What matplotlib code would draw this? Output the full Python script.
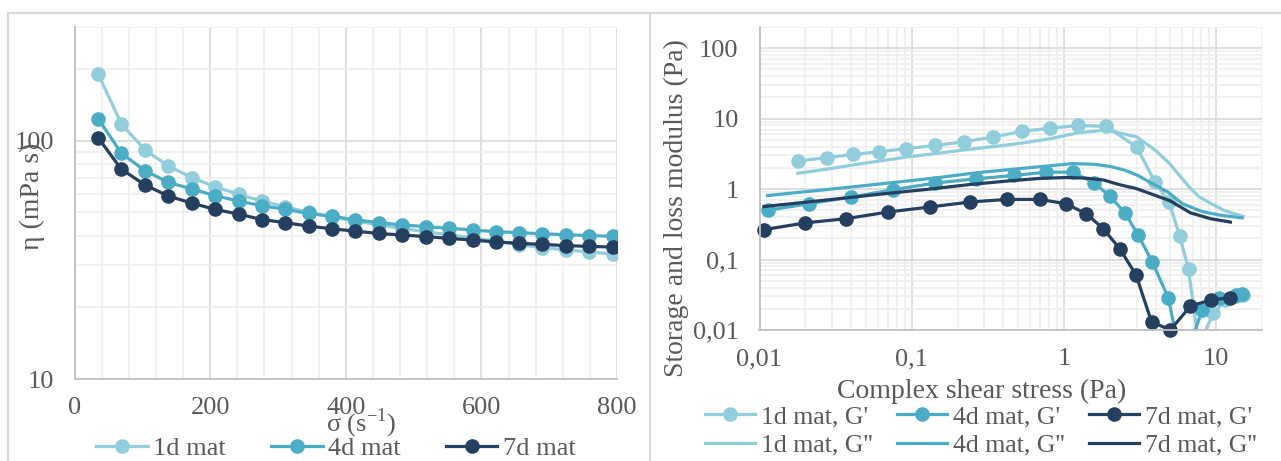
import numpy as np
import matplotlib
matplotlib.use("Agg")
import matplotlib.pyplot as plt
from matplotlib.ticker import FixedLocator, LogLocator, MultipleLocator, FuncFormatter, NullFormatter
from matplotlib.patches import Rectangle
from matplotlib.lines import Line2D

# --- left panel: viscosity vs shear rate ---
shear_rate = [35, 69, 104, 138, 173, 207, 242, 276, 311, 345, 380, 414, 449, 483, 518, 552, 587, 621, 656, 690, 725, 759, 794]
eta_1d = [190, 117.5, 91.4, 78.4, 70.0, 64.1, 59.6, 55.8, 52.8, 50.0, 47.8, 46.0, 44.3, 42.8, 41.5, 40.3, 39.1, 37.9, 36.6, 35.6, 34.8, 34.1, 33.5]
eta_4d = [123.5, 88.5, 74.8, 66.9, 62.7, 58.8, 55.8, 53.4, 51.5, 49.5, 48.2, 46.5, 45.3, 44.3, 43.6, 42.9, 42.2, 41.5, 41.1, 40.7, 40.3, 40.0, 39.7]
eta_7d = [102.6, 75.9, 65.2, 58.6, 54.7, 51.5, 49.2, 46.7, 45.3, 43.8, 42.7, 41.7, 40.8, 40.2, 39.6, 38.9, 38.3, 37.6, 37.1, 36.7, 36.3, 36.0, 35.8]

# --- right panel: amplitude sweep, G' and G'' vs complex shear stress ---
stress_1d = [0.0179, 0.0277, 0.0411, 0.061, 0.0923, 0.143, 0.222, 0.340, 0.531, 0.815, 1.24, 1.90, 3.01, 3.96, 4.90, 5.76, 6.58, 7.7, 9.55, 11.5, 13.5, 15.0]
gp_1d = [2.5, 2.8, 3.1, 3.4, 3.75, 4.17, 4.7, 5.47, 6.6, 7.33, 8.0, 7.76, 3.94, 1.26, 0.657, 0.217, 0.0724, 0.006, 0.0172, 0.027, 0.030, 0.031]
gpp_1d = [1.68, 1.92, 2.2, 2.5, 2.85, 3.2, 3.6, 4.0, 4.5, 5.2, 6.3, 6.9, 5.5, 3.6, 2.35, 1.55, 1.1, 0.78, 0.6, 0.49, 0.44, 0.41]

stress_4d = [0.0113, 0.0211, 0.040, 0.0757, 0.143, 0.263, 0.468, 0.760, 1.14, 1.58, 2.01, 2.52, 3.08, 3.80, 4.85, 6.0, 8.09, 10.4, 13.4, 14.8]
gp_4d = [0.50, 0.62, 0.77, 0.98, 1.22, 1.40, 1.56, 1.74, 1.74, 1.22, 0.787, 0.457, 0.221, 0.0927, 0.0287, 0.003, 0.0192, 0.0281, 0.0313, 0.032]
gpp_4d = [0.81, 0.93, 1.07, 1.24, 1.44, 1.70, 1.92, 2.12, 2.3, 2.25, 2.1, 1.85, 1.55, 1.2, 0.9, 0.62, 0.48, 0.43, 0.40, 0.39]

stress_7d = [0.0107, 0.0199, 0.0369, 0.0698, 0.131, 0.240, 0.422, 0.695, 1.03, 1.40, 1.81, 2.34, 2.98, 3.76, 5.00, 6.78, 9.18, 12.4]
gp_7d = [0.266, 0.331, 0.380, 0.473, 0.556, 0.655, 0.714, 0.714, 0.620, 0.448, 0.275, 0.140, 0.060, 0.0131, 0.0100, 0.0219, 0.0266, 0.0287]
gpp_7d = [0.565, 0.65, 0.75, 0.87, 1.0, 1.16, 1.3, 1.42, 1.46, 1.43, 1.35, 1.15, 1.02, 0.85, 0.68, 0.46, 0.38, 0.34]

labels = ['1d mat', '4d mat', '7d mat']
colors = ['#92CDDC', '#4BACC6', '#243F60']

TXT = '#595959'
FS_TICK = 19
FS_LAB = 20
FS_LEG = 19
LW = 2.3
MS = 9.5
W, H = 1281, 461


def fx(px):
    return px / W


def fy(py):
    return 1 - py / H


def comma(v, pos):
    return ('%g' % v).replace('.', ',')


def style_axes(ax):
    for s in ['top', 'right']:
        ax.spines[s].set_visible(False)
    for s in ['left', 'bottom']:
        ax.spines[s].set_color('#BFBFBF')
        ax.spines[s].set_linewidth(1.3)
    ax.grid(True, which='major', color='#D9D9D9', linewidth=1.2)
    ax.grid(True, which='minor', color='#EFEFEF', linewidth=1.2)
    ax.set_axisbelow(True)
    ax.tick_params(which='both', length=0, labelsize=FS_TICK, colors=TXT)
    ax.tick_params(axis='y', pad=15)
    ax.tick_params(axis='x', pad=13)


def main():
    plt.rcParams['font.family'] = ['Liberation Serif', 'DejaVu Serif']
    fig = plt.figure(figsize=(W / 100, H / 100), dpi=100)

    # chart area frames
    fig.patches.append(Rectangle((fx(8), fy(470)), fx(650) - fx(8), fy(13) - fy(470),
                                 transform=fig.transFigure, fill=False, edgecolor='#D9D9D9', linewidth=1.5))
    fig.patches.append(Rectangle((fx(650), fy(470)), fx(1290) - fx(650), fy(13) - fy(470),
                                 transform=fig.transFigure, fill=False, edgecolor='#D9D9D9', linewidth=1.5))

    # ---- left panel ----
    ax1 = fig.add_axes([fx(74.6), fy(379), fx(617) - fx(74.6), fy(27) - fy(379)])
    for eta, lab, c in zip([eta_1d, eta_4d, eta_7d], labels, colors):
        ax1.plot(shear_rate, eta, color=c, linewidth=LW, marker='o', markersize=MS, label=lab)
    ax1.set_yscale('log')
    ax1.set_xlim(0, 800)
    ax1.set_ylim(10, 300)
    ax1.xaxis.set_major_locator(MultipleLocator(200))
    ax1.xaxis.set_minor_locator(MultipleLocator(40))
    ax1.yaxis.set_major_locator(FixedLocator([10, 100]))
    ax1.yaxis.set_minor_locator(LogLocator(base=10, subs=np.arange(2, 10)))
    ax1.yaxis.set_major_formatter(FuncFormatter(comma))
    ax1.yaxis.set_minor_formatter(NullFormatter())
    style_axes(ax1)

    fig.text(fx(32), fy(196), 'η (mPa s)', rotation=90, ha='center', va='center', fontsize=FS_LAB, color=TXT)
    fig.text(fx(361), fy(423), r'σ (s$^{\mathregular{-1}}$)', ha='center', va='center', fontsize=19, color=TXT)

    h1, l1 = ax1.get_legend_handles_labels()
    fig.legend(h1, l1, loc='center', bbox_to_anchor=(fx(336), fy(448)), ncol=3, frameon=False,
               fontsize=FS_LEG, labelcolor=TXT, handlelength=1.95, handletextpad=0.22, columnspacing=1.7,
               borderpad=0, borderaxespad=0)

    # ---- right panel ----
    ax2 = fig.add_axes([fx(759.5), fy(330), fx(1262) - fx(759.5), fy(27) - fy(330)])
    series = [(stress_1d, gp_1d, gpp_1d), (stress_4d, gp_4d, gpp_4d), (stress_7d, gp_7d, gpp_7d)]
    handles, names = [], []
    for (x, gp, gpp), lab, c in zip(series, labels, colors):
        ax2.plot(x, gpp, color=c, linewidth=LW)
        ax2.plot(x, gp, color=c, linewidth=LW)
        # markers only for points inside the axis range, drawn unclipped like the original
        x_arr, gp_arr = np.array(x), np.array(gp)
        keep = gp_arr >= 0.01
        ax2.plot(x_arr[keep], gp_arr[keep], linestyle='none', marker='o', markersize=MS, color=c, clip_on=False)
        handles += [Line2D([], [], color=c, linewidth=LW, marker='o', markersize=MS),
                    Line2D([], [], color=c, linewidth=LW)]
        names += [lab + ", G'", lab + ", G''"]
    ax2.set_xscale('log')
    ax2.set_yscale('log')
    ax2.set_xlim(0.01, 20)
    ax2.set_ylim(0.01, 200)
    ax2.xaxis.set_major_locator(FixedLocator([0.01, 0.1, 1, 10]))
    ax2.yaxis.set_major_locator(FixedLocator([0.01, 0.1, 1, 10, 100]))
    ax2.xaxis.set_minor_locator(LogLocator(base=10, subs=np.arange(2, 10), numticks=20))
    ax2.yaxis.set_minor_locator(LogLocator(base=10, subs=np.arange(2, 10), numticks=20))
    ax2.xaxis.set_major_formatter(FuncFormatter(comma))
    ax2.yaxis.set_major_formatter(FuncFormatter(comma))
    ax2.xaxis.set_minor_formatter(NullFormatter())
    ax2.yaxis.set_minor_formatter(NullFormatter())
    style_axes(ax2)

    fig.text(fx(676), fy(208), 'Storage and loss modulus (Pa)', rotation=90, ha='center', va='center',
             fontsize=FS_LAB, color=TXT)
    fig.text(fx(982), fy(391), 'Complex shear stress (Pa)', ha='center', va='center', fontsize=FS_LAB, color=TXT)

    fig.legend(handles, names, loc='center', bbox_to_anchor=(fx(981), fy(431)),
               ncol=3, frameon=False, fontsize=18.5, labelcolor=TXT, handlelength=1.95, handletextpad=0.22,
               columnspacing=0.95, labelspacing=0.2, borderpad=0, borderaxespad=0)

    fig.savefig('out.png', dpi=100)
    plt.close(fig)


if __name__ == '__main__':
    main()
